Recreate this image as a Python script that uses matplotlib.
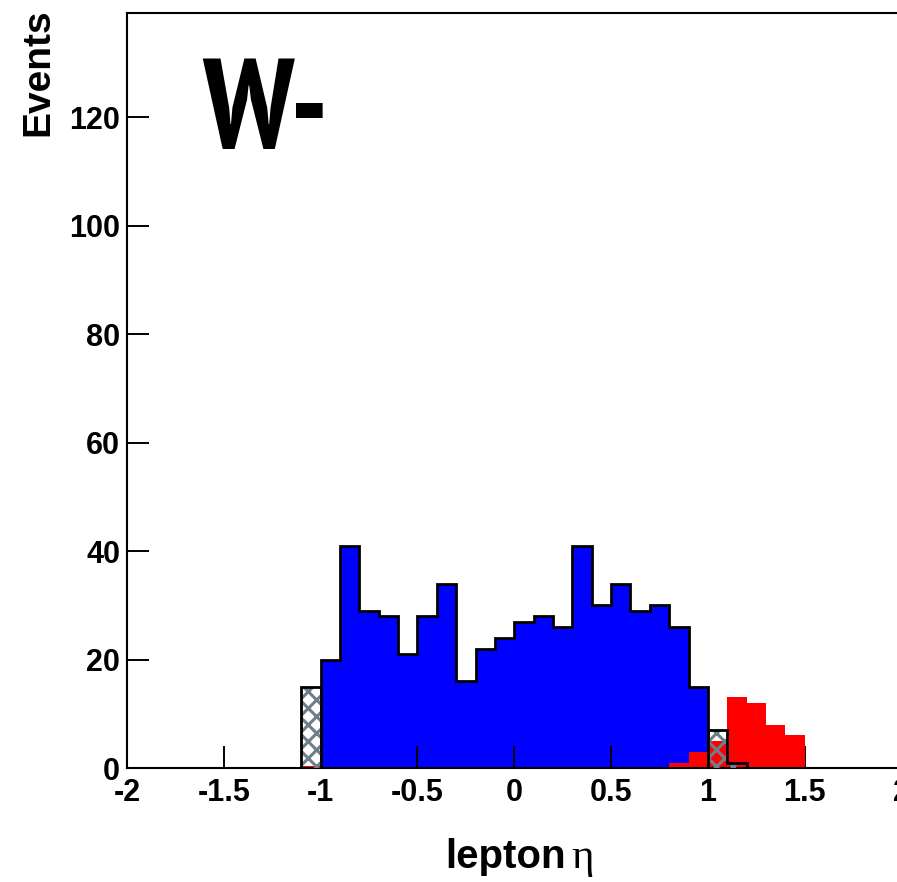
import numpy as np
import matplotlib
matplotlib.use("Agg")
import matplotlib.pyplot as plt
from matplotlib import font_manager as fm

plt.rcParams['font.family'] = ['Liberation Sans', 'DejaVu Sans']
plt.rcParams['font.weight'] = 'bold'
plt.rcParams['axes.unicode_minus'] = False
plt.rcParams['hatch.linewidth'] = 2.2

# bin edges: 40 bins of 0.1 from -2 to 2
edges = np.round(np.linspace(-2.0, 2.0, 41), 2)

# W- signal (blue), bins -2 .. 2
signal = [0, 0, 0, 0, 0, 0, 0, 0, 0, 0,
          20, 41, 29, 28, 21, 28, 34, 16, 22, 24,
          27, 28, 26, 41, 30, 34, 29, 30, 26, 15,
          0, 0, 0, 0, 0, 0, 0, 0, 0, 0]

# second sample (red)
other = [0, 0, 0, 0, 0, 0, 0, 0, 0, 0.3,
         0, 0, 0, 0, 0, 0, 0, 0, 0, 0,
         0, 0, 0, 0, 0, 0, 0, 0, 1, 3,
         5, 13, 12, 8, 6, 0.2, 0, 0, 0, 0]

# hatched sample (gray)
hatched = [0, 0, 0, 0, 0, 0, 0, 0, 0, 15,
           0, 0, 0, 0, 0, 0, 0, 0, 0, 0,
           0, 0, 0, 0, 0, 0, 0, 0, 0, 0,
           7, 1, 0, 0, 0, 0, 0, 0, 0, 0]

xticks = [-2, -1.5, -1, -0.5, 0, 0.5, 1, 1.5, 2]
xticklabels = ['-2', '-1.5', '-1', '-0.5', '0', '0.5', '1', '1.5', '2']
yticks = [0, 20, 40, 60, 80, 100, 120]

# a narrow bold face for the big "W-" label, if one is installed
big_font = fm.FontProperties(family=['Liberation Sans'], weight='bold')
big_size = 86
for f in fm.fontManager.ttflist:
    name = f.name.lower()
    if 'narrow' in name and f.weight in ('bold', 700):
        big_font = fm.FontProperties(fname=f.fname)
        big_size = 92
        break
big_font.set_size(big_size)

fig = plt.figure(figsize=(8.97, 8.82), dpi=100)
ax = fig.add_axes([127 / 897, 1 - 768 / 882, 774.5 / 897, 755 / 882])

ax.stairs(signal, edges, fill=True, color='#0000ff', zorder=1)
ax.stairs(signal, edges, color='black', lw=2, zorder=1.5)
ax.stairs(other, edges, fill=True, color='#ff0000', zorder=2)
ax.stairs(hatched, edges, fill=True, facecolor='none', edgecolor='#6f7f88',
          hatch='xx', lw=0, zorder=3)
ax.stairs(hatched, edges, color='black', lw=2, zorder=3.5)

ax.set_xlim(-2, 2)
ax.set_ylim(0, 139.2)
ax.set_xticks(xticks)
ax.set_xticklabels(xticklabels)
ax.set_yticks(yticks)
ax.tick_params(direction='in', length=16, width=1.4, labelsize=22, colors='black')
ax.tick_params(axis='x', pad=7)
ax.tick_params(axis='y', pad=5)
for s in ax.spines.values():
    s.set_linewidth(1.5)

fig.text(38 / 897, 1 - 8 / 882, 'Events', rotation=90, ha='center', va='top',
         fontsize=28, fontweight='bold')
fig.text(566 / 897, 1 - 868 / 882, 'lepton', ha='right', va='baseline',
         fontsize=29, fontweight='bold')
fig.text(571 / 897, 1 - 868 / 882, 'η', ha='left', va='baseline',
         fontsize=31, family=['Liberation Serif', 'DejaVu Serif'], fontweight='normal')
fig.text(202 / 897, 1 - 148 / 882, 'W-', ha='left', va='baseline',
         fontproperties=big_font)

fig.savefig('out.png', dpi=100)
